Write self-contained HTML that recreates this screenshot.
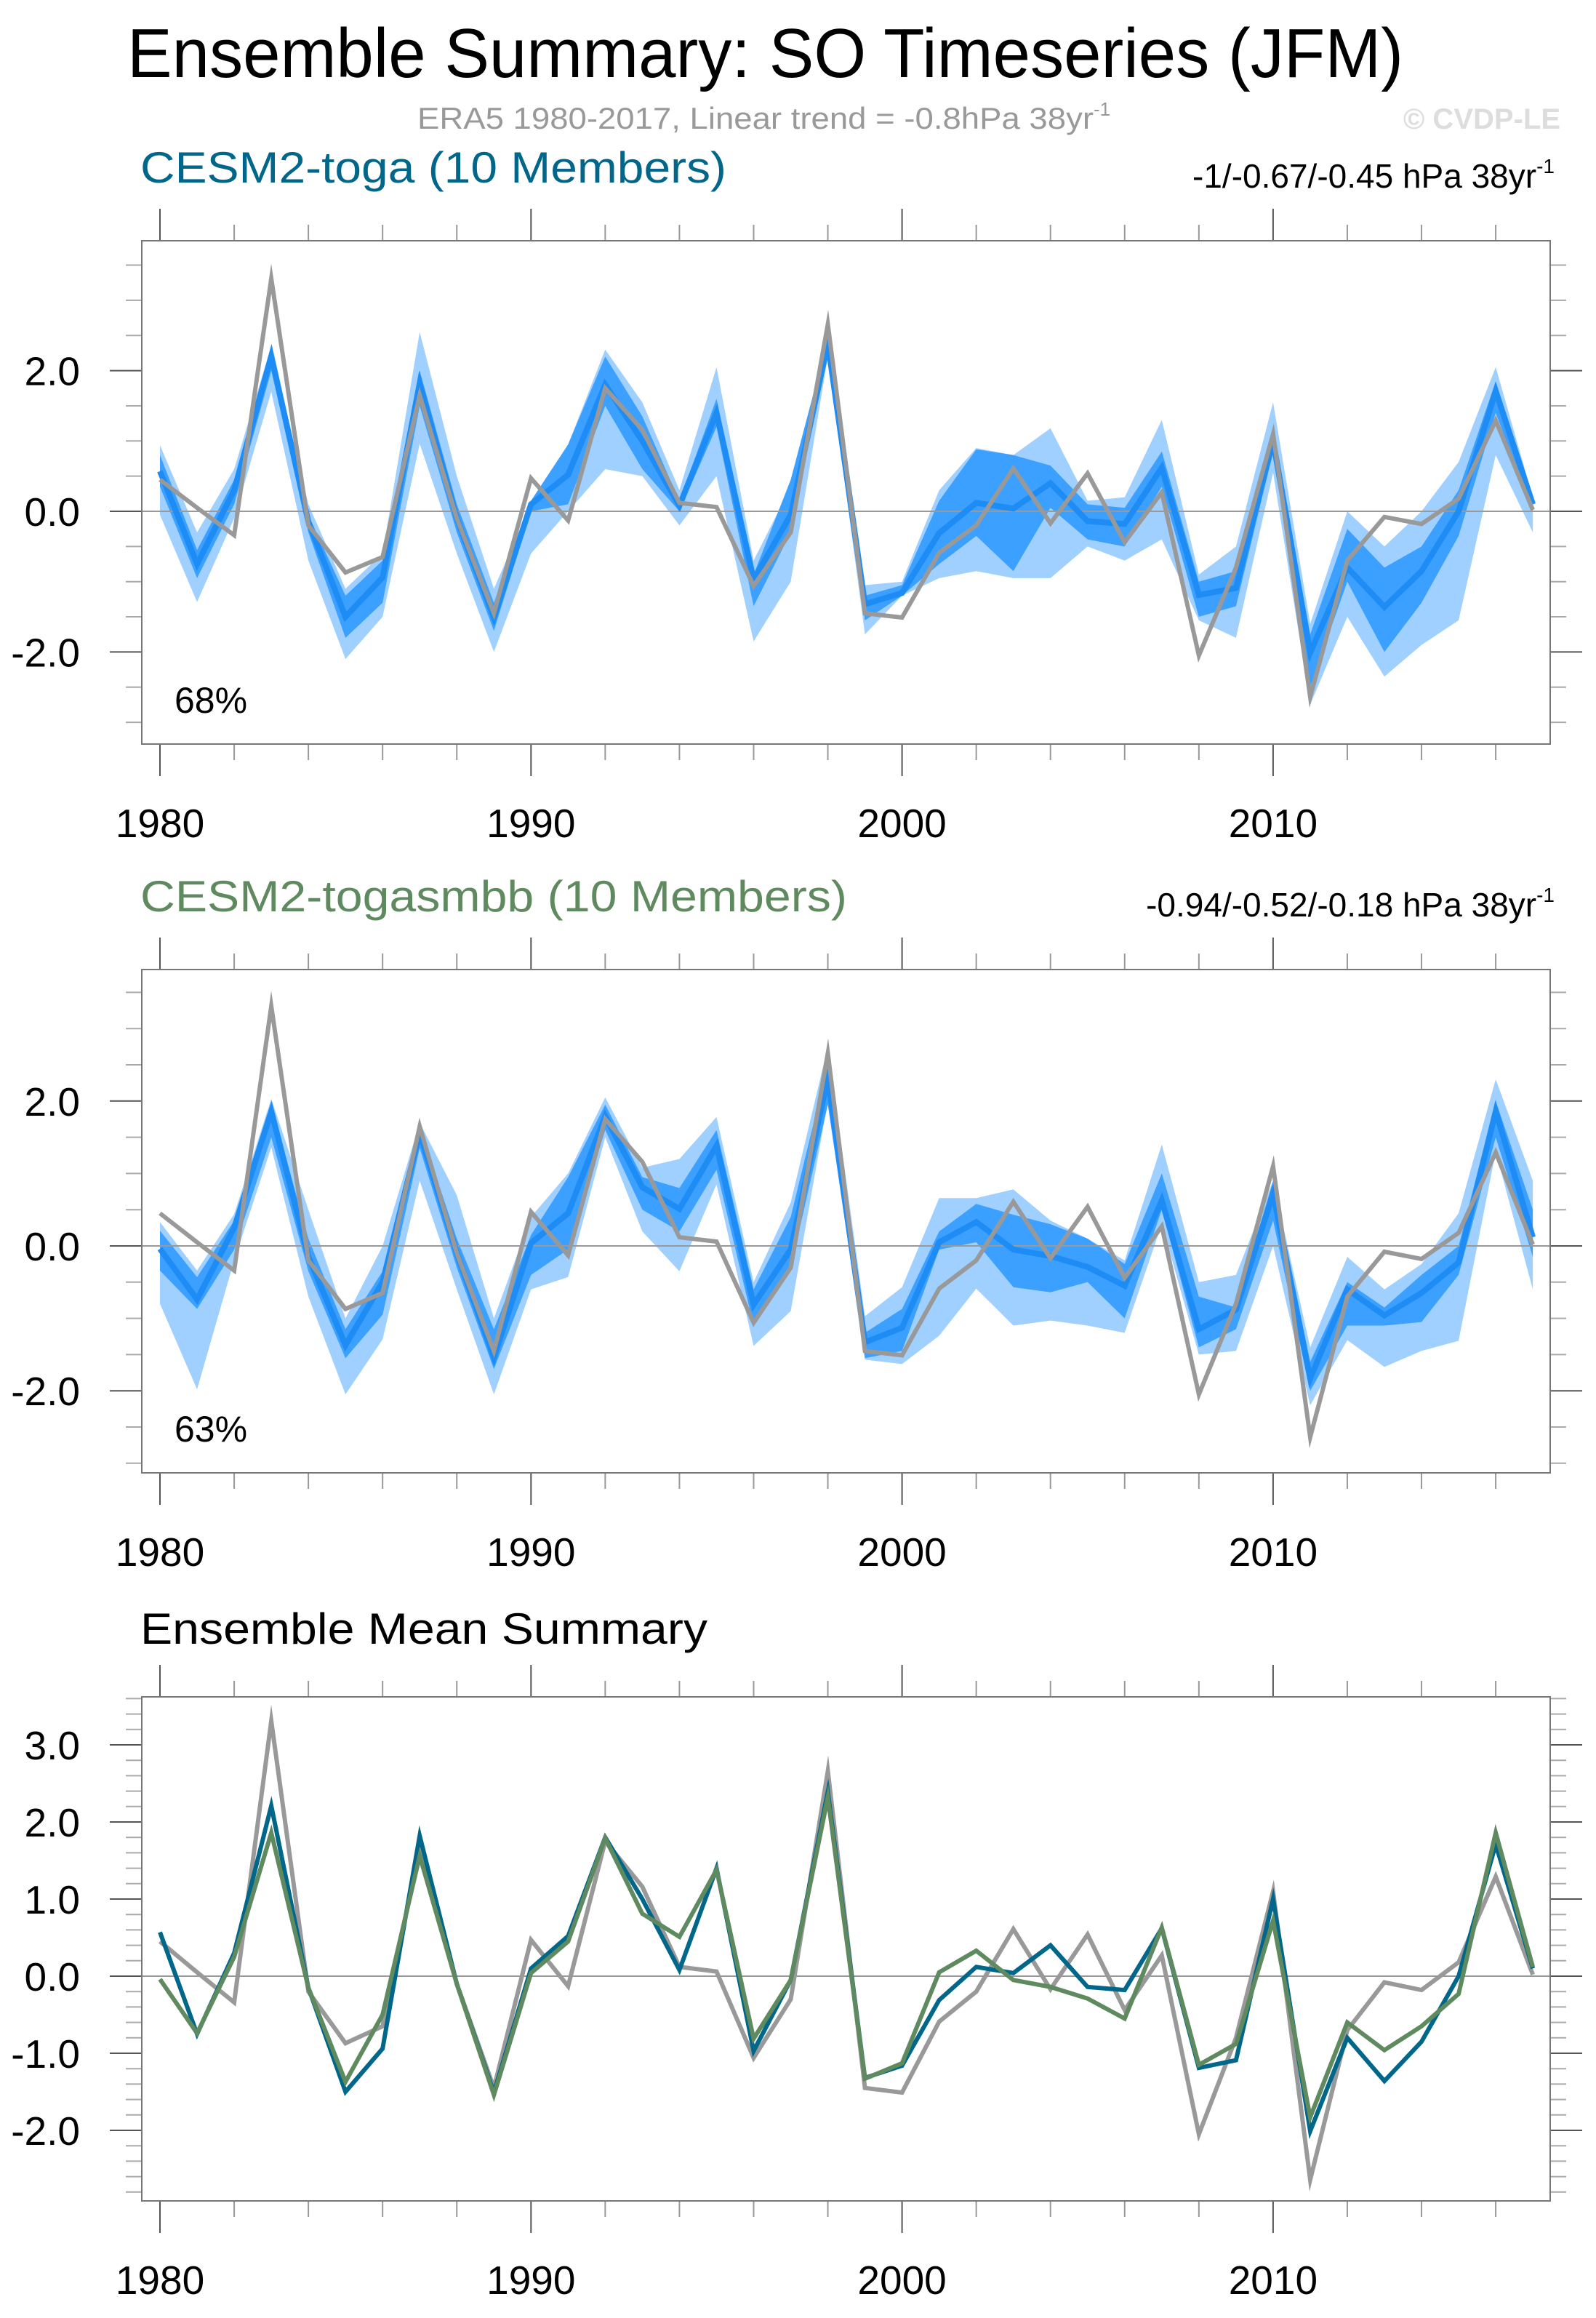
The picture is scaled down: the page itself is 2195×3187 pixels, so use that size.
<!DOCTYPE html>
<html><head><meta charset="utf-8"><style>
html,body{margin:0;padding:0;background:#fff;}
svg{display:block;font-family:"Liberation Sans",sans-serif;}
</style></head><body>
<svg id="chart" width="2195" height="3187" viewBox="0 0 2195 3187" xmlns="http://www.w3.org/2000/svg">
<text x="175" y="106" font-size="96" textLength="1755" lengthAdjust="spacingAndGlyphs" fill="#000">Ensemble Summary: SO Timeseries (JFM)</text>
<text x="574" y="177" font-size="42" fill="#999"><tspan textLength="930" lengthAdjust="spacingAndGlyphs">ERA5 1980-2017, Linear trend = -0.8hPa 38yr</tspan><tspan font-size="26" dy="-18">-1</tspan></text>
<text x="2146" y="177" font-size="40" font-weight="bold" fill="#ddd" text-anchor="end">© CVDP-LE</text>
<g id="plots"></g>
</svg>
<script>
const years = [];
for (let y = 1980; y <= 2017; y++) years.push(y);
const era5 = [0.45,0.05,-0.34,3.31,-0.2,-0.87,-0.65,1.65,-0.1,-1.45,0.47,-0.13,1.75,1.16,0.12,0.06,-1.06,-0.3,2.66,-1.45,-1.51,-0.59,-0.2,0.61,-0.17,0.54,-0.44,0.27,-2.05,-0.8,1.1,-2.64,-0.7,-0.08,-0.18,0.18,1.29,0.02];
const togaMean = [0.57,-0.75,0.3,2.21,-0.15,-1.5,-0.94,1.82,-0.1,-1.51,0.1,0.52,1.8,1.0,0.08,1.4,-0.97,-0.05,2.39,-1.32,-1.16,-0.31,0.12,0.04,0.4,-0.14,-0.18,0.62,-1.19,-1.09,1.0,-2.01,-0.8,-1.36,-0.85,0.0,1.71,0.1];
const smbbMean = [-0.04,-0.74,0.25,1.86,-0.15,-1.37,-0.5,1.56,-0.1,-1.54,0.04,0.45,1.79,0.81,0.51,1.38,-0.81,-0.05,2.32,-1.33,-1.13,0.05,0.33,-0.05,-0.14,-0.29,-0.55,0.63,-1.15,-0.88,0.72,-1.83,-0.6,-0.96,-0.65,-0.23,1.86,0.12];
const togaLightHi = [0.94,-0.3,0.6,2.35,0.1,-1.1,-0.6,2.55,0.5,-1.1,0.1,0.95,2.3,1.55,0.3,2.05,-0.7,0.35,2.5,-1.05,-1.0,0.3,0.9,0.8,1.18,0.15,0.2,1.3,-0.9,-0.5,1.55,-1.6,0.0,-0.5,0.0,0.7,2.05,0.2];
const togaLightLo = [-0.05,-1.29,-0.1,1.7,-0.7,-2.1,-1.5,0.96,-0.6,-2.0,-0.6,0.0,0.6,0.5,-0.2,0.5,-1.85,-1.0,2.2,-1.75,-1.2,-0.95,-0.85,-0.95,-0.95,-0.5,-0.7,-0.4,-1.55,-1.8,0.55,-2.75,-1.5,-2.35,-1.9,-1.55,0.8,-0.3];
const togaDarkHi = [0.8,-0.55,0.45,2.3,-0.05,-1.2,-0.7,2.0,0.1,-1.3,0.15,0.95,2.2,1.35,0.15,1.6,-0.9,0.45,2.45,-1.2,-1.05,0.15,0.88,0.8,0.65,0.1,0.05,0.85,-1.0,-0.85,1.2,-1.75,-0.25,-0.8,-0.5,0.3,1.85,0.15];
const togaDarkLo = [0.35,-0.95,0.1,2.0,-0.3,-1.8,-1.3,1.5,-0.3,-1.7,0.0,0.1,1.5,0.6,0.0,1.2,-1.35,-0.3,2.3,-1.55,-1.2,-0.75,-0.35,-0.85,0.05,-0.4,-0.5,0.35,-1.5,-1.35,0.85,-2.5,-1.0,-2.0,-1.3,-0.35,1.4,0.0];
const smbbLightHi = [0.33,-0.34,0.44,2.03,0.5,-1.0,0.0,1.7,0.7,-1.0,0.4,1.0,2.05,1.08,1.2,1.78,-0.5,0.6,2.75,-0.97,-0.57,0.66,0.66,0.78,0.35,0.1,-0.2,1.4,-0.5,-0.4,0.9,-1.4,-0.15,-0.6,-0.25,0.45,2.3,0.9];
const smbbLightLo = [-0.8,-1.98,-0.2,1.36,-0.7,-2.05,-1.29,0.9,-0.6,-2.05,-0.6,-0.43,1.5,0.2,-0.35,0.85,-1.38,-0.9,2.0,-1.57,-1.63,-1.24,-0.59,-1.1,-1.03,-1.1,-1.2,0.3,-1.5,-1.45,0.0,-2.2,-1.3,-1.67,-1.45,-1.31,1.3,-0.6];
const smbbDarkHi = [0.21,-0.43,0.35,1.95,0.1,-1.15,-0.35,1.65,0.1,-1.15,0.15,0.95,1.95,0.95,0.8,1.6,-0.6,0.4,2.5,-1.2,-0.87,0.2,0.58,0.43,0.3,0.1,-0.25,1.0,-0.7,-0.85,0.9,-1.6,-0.5,-0.85,-0.4,0.0,2.0,0.5];
const smbbDarkLo = [-0.34,-0.87,-0.05,1.5,-0.35,-1.55,-0.95,1.35,-0.3,-1.7,-0.4,-0.05,1.6,0.5,0.2,1.05,-1.1,-0.3,1.95,-1.55,-1.45,-0.05,0.05,-0.57,-0.64,-0.5,-1.0,0.5,-1.4,-1.15,0.35,-2.0,-1.1,-1.1,-1.05,-0.4,1.5,-0.15];
const yTicks12 = [-2.0, 0.0, 2.0];
const yTicks3 = [-2.0,-1.0,0.0,1.0,2.0,3.0];
const xTickLabels = [1980,1990,2000,2010];

const NS = "http://www.w3.org/2000/svg";
const root = document.getElementById('plots');
function mk(tag, attrs, parent) {
  const e = document.createElementNS(NS, tag);
  for (const k in attrs) e.setAttribute(k, attrs[k]);
  (parent || root).appendChild(e);
  return e;
}
const L = 195, R = 2132;
function xs(yr) { return 220 + 51.03 * (yr - 1980); }

function panel(p) {
  const g = mk('g', {});
  
  
  const ys = v => p.y0 - v * p.unit;
  const vMin = (p.y0 - p.bottom) / p.unit, vMax = (p.y0 - p.top) / p.unit;
  // ticks
  for (let yr = 1980; yr <= 2018; yr += 2) {
    const x = xs(yr); if (x > R) continue;
    const major = (yr % 10 === 0);
    const len = major ? 44 : 22;
    const c = major ? '#555' : '#999';
    const t1 = mk('line', {x1:x, x2:x, y1:p.top - len, y2:p.top, stroke:c, 'stroke-width':2}, g);
    
    
    const t2 = mk('line', {x1:x, x2:x, y1:p.bottom, y2:p.bottom + len, stroke:c, 'stroke-width':2}, g);
    
    
  }
  const n = Math.round((vMax - Math.ceil(vMin / p.minor) * p.minor) / p.minor);
  for (let i = Math.ceil(vMin / p.minor); i * p.minor <= vMax + 1e-9; i++) {
    const v = i * p.minor, y = ys(v);
    const major = p.ticks.some(t => Math.abs(t - v) < 1e-6);
    const len = major ? 44 : 22;
    const c = major ? '#555' : '#aaa';
    const a = mk('line', {x1:L - len, x2:L, y1:y, y2:y, stroke:c, 'stroke-width':2}, g);
    
    
    const b = mk('line', {x1:R, x2:R + len, y1:y, y2:y, stroke:c, 'stroke-width':2}, g);
    
    
  }
  p.ticks.forEach(t => {
    const tx = mk('text', {x:110, y:ys(t) + 20, 'font-size':55, 'text-anchor':'end', fill:'#000'}, g);
    
    
    tx.textContent = t.toFixed(1);
  });
  xTickLabels.forEach(yr => {
    const tx = mk('text', {x:xs(yr), y:p.bottom + 128, 'font-size':55, 'text-anchor':'middle', fill:'#000'}, g);
    
    
    tx.textContent = yr;
  });
  // bands
  function band(hi, lo, color, name) {
    let d = '';
    years.forEach((yr, i) => { d += (i ? 'L' : 'M') + xs(yr) + ' ' + ys(hi[i]); });
    for (let i = years.length - 1; i >= 0; i--) d += 'L' + xs(years[i]) + ' ' + ys(lo[i]);
    const e = mk('path', {d: d + 'Z', fill: color}, g);
    
    
  }
  if (p.bands) {
    band(p.bands[0], p.bands[1], '#a0d0ff', 'light-spread-band');
    band(p.bands[2], p.bands[3], '#3ba0ff', 'dark-spread-band');
  }
  const zl = mk('line', {x1:L, x2:R, y1:ys(0), y2:ys(0), stroke:'#999', 'stroke-width':2}, g);
  
  
  function series(vals, color, w, name) {
    const pts = years.map((yr, i) => xs(yr) + ',' + ys(vals[i])).join(' ');
    const e = mk('polyline', {points: pts, fill:'none', stroke:color, 'stroke-width':w, 'stroke-linejoin':'miter', 'stroke-miterlimit':10}, g);
    
    
  }
  p.lines.forEach(s => series(s[0], s[1], s[2], s[3]));
  const bx = mk('rect', {x:L, y:p.top, width:R - L, height:p.bottom - p.top, fill:'none', stroke:'#777', 'stroke-width':2}, g);
  
  
  const tt = mk('text', {x:193, y:p.titleY, 'font-size':60, fill:p.titleColor}, g);
  
  
  tt.setAttribute('textLength', p.titleW);
  tt.setAttribute('lengthAdjust', 'spacingAndGlyphs');
  tt.textContent = p.title;
  if (p.trend) {
    const tr = mk('text', {x:2138, y:p.titleY + 7, 'font-size':46, 'text-anchor':'end', fill:'#000'}, g);
    
    
    const s1 = mk('tspan', {}, tr); s1.textContent = p.trend;
    const s2 = mk('tspan', {'font-size':28, dy:-20}, tr); s2.textContent = '-1';
  }
  if (p.pct) {
    const pc = mk('text', {x:240, y:p.top + 649, 'font-size':50, fill:'#000'}, g);
    
    
    pc.textContent = p.pct;
  }
}

panel({name:'cesm2-toga-panel', top:331, bottom:1023, y0:703, unit:96.7, ticks:yTicks12, minor:0.5,
  bands:[togaLightHi, togaLightLo, togaDarkHi, togaDarkLo],
  lines:[[togaMean,'#1e8cf5',8,'toga-ensemble-mean-line'],[era5,'#999',6,'era5-line']],
  title:'CESM2-toga (10 Members)', titleColor:'#00678a', titleY:251, titleW:806,
  trend:'-1/-0.67/-0.45 hPa 38yr', pct:'68%'});
panel({name:'cesm2-togasmbb-panel', top:1333, bottom:2025, y0:1713, unit:99.6, ticks:yTicks12, minor:0.5,
  bands:[smbbLightHi, smbbLightLo, smbbDarkHi, smbbDarkLo],
  lines:[[smbbMean,'#1e8cf5',8,'togasmbb-ensemble-mean-line'],[era5,'#999',6,'era5-line']],
  title:'CESM2-togasmbb (10 Members)', titleColor:'#5f8a5f', titleY:1253, titleW:972,
  trend:'-0.94/-0.52/-0.18 hPa 38yr', pct:'63%'});
panel({name:'ensemble-mean-summary-panel', top:2333, bottom:3026, y0:2717, unit:106, ticks:yTicks3, minor:0.2,
  bands:null,
  lines:[[era5,'#999',6,'era5-line'],[togaMean,'#00678a',6,'toga-mean-line'],[smbbMean,'#5f8a5f',6,'togasmbb-mean-line']],
  title:'Ensemble Mean Summary', titleColor:'#000', titleY:2260, titleW:780});
</script>
</body></html>
